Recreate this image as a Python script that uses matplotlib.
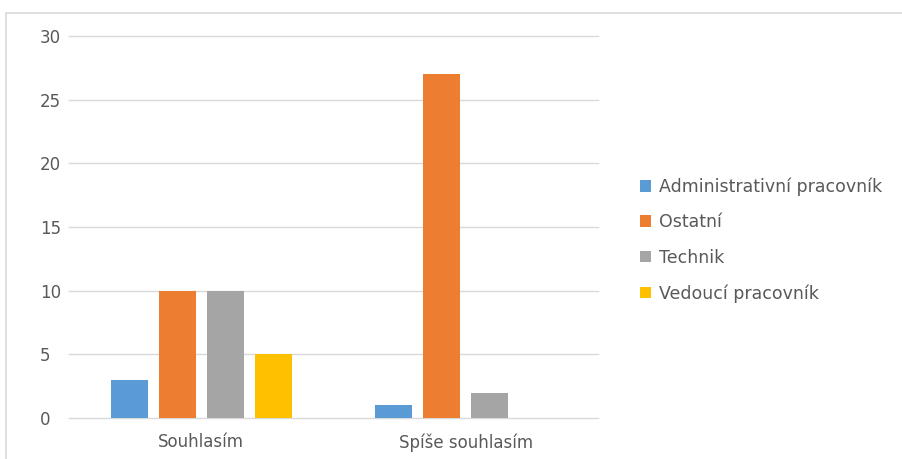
import numpy as np
import matplotlib.pyplot as plt
from matplotlib.patches import Rectangle

categories = ['Souhlasím', 'Spíše souhlasím']
series_names = ['Administrativní pracovník', 'Ostatní', 'Technik', 'Vedoucí pracovník']
admin = [3, 1]
ostatni = [10, 27]
technik = [10, 2]
vedouci = [5, 0]
colors = ['#5b9bd5', '#ed7d31', '#a5a5a5', '#ffc000']

text_col = '#595959'
grid_col = '#d9d9d9'

fig = plt.figure(figsize=(9.02, 4.59), dpi=100)
ax = fig.add_axes([69 / 902, 1 - 418 / 459, 529 / 902, 382 / 459])

# outer chart border (top and left edges visible)
fig.patches.append(Rectangle((6 / 902, -0.1), 1.2, 1 - 13 / 459 + 0.1,
                             transform=fig.transFigure, fill=False,
                             edgecolor=grid_col, lw=1.2))

x = np.arange(len(categories))
width = 0.14
step = 0.1815
values = [admin, ostatni, technik, vedouci]
for i, (name, vals) in enumerate(zip(series_names, values)):
    ax.bar(x + (i - 1.5) * step, vals, width, color=colors[i], label=name, zorder=3)

ax.set_xlim(-0.5, 1.5)
ax.set_ylim(0, 30)
ax.set_yticks(range(0, 31, 5))
ax.yaxis.grid(True, color=grid_col, lw=1, zorder=0)
for gl in ax.get_ygridlines():
    gl.set_clip_on(False)
ax.set_xticks(x)
ax.set_xticklabels(categories)
for s in ax.spines.values():
    s.set_visible(False)
ax.tick_params(axis='both', length=0, colors=text_col, labelsize=12)
ax.tick_params(axis='y', pad=21)
ax.tick_params(axis='x', pad=11)
for lab in ax.get_yticklabels():
    lab.set_horizontalalignment('left')

leg = fig.legend(loc='center left', bbox_to_anchor=(624 / 902, 1 - 240 / 459),
                 frameon=False, fontsize=12.5, labelcolor=text_col,
                 handlelength=0.65, handleheight=0.65, handletextpad=0.45,
                 labelspacing=1.0)

fig.savefig('out.png', dpi=100)
